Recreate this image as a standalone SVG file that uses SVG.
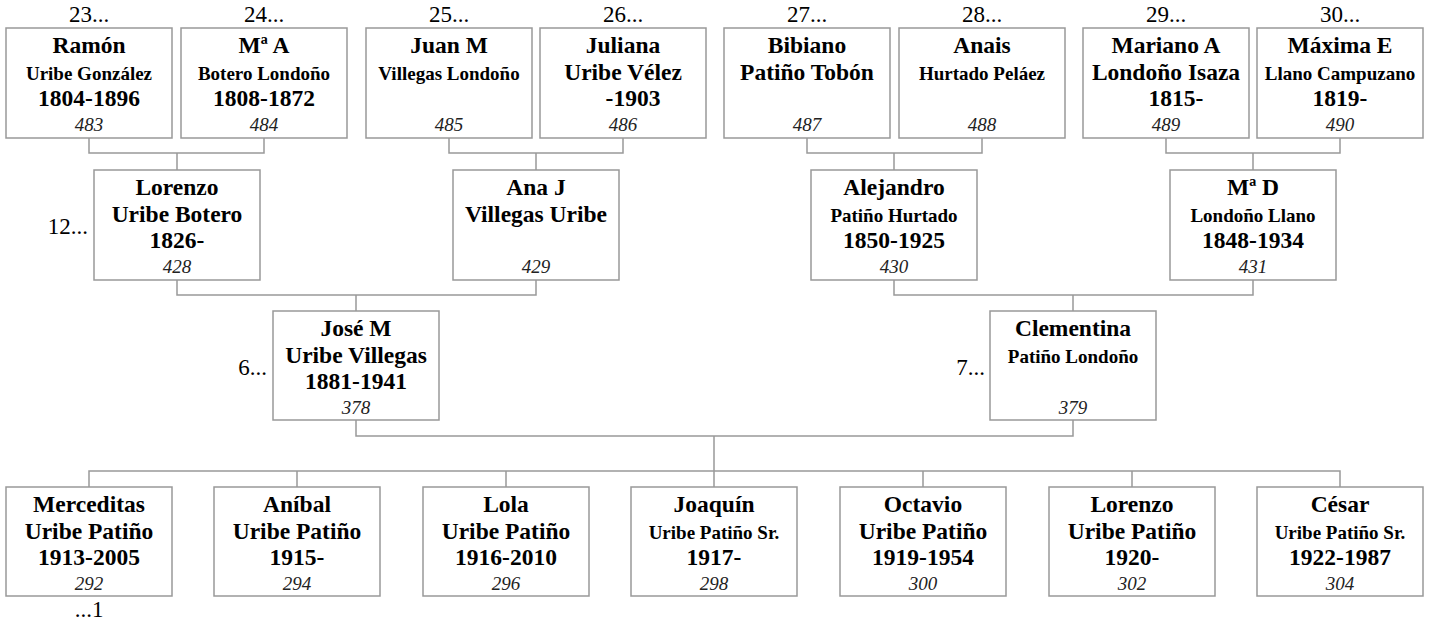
<svg xmlns="http://www.w3.org/2000/svg" width="1431" height="625" viewBox="0 0 1431 625" font-family="'Liberation Serif', 'Times New Roman', Tinos, Times, 'Nimbus Roman', serif">
<style>
.bx{fill:#fff;stroke:#999;stroke-width:1.5}
.cn{fill:none;stroke:#999;stroke-width:1.5}
text{font-family:'Liberation Serif','Times New Roman',Tinos,Times,'Nimbus Roman',serif;text-anchor:middle;fill:#000}
.b{font-weight:bold;font-size:23.5px}
.s{font-weight:bold;font-size:19px}
.n{font-style:italic;font-size:19px;fill:#222}
.l{font-size:23px}
.le{font-size:23px;text-anchor:end}
</style>
<rect width="1431" height="625" fill="#fff"/>
<g id="connectors">
<path class="cn" d="M89,138V153H264V138M177,153V170"/>
<path class="cn" d="M449,138V153H623V138M536,153V170"/>
<path class="cn" d="M807,138V153H982V138M894,153V170"/>
<path class="cn" d="M1166,138V153H1340V138M1253,153V170"/>
<path class="cn" d="M177,280V295H536V280M356,295V311"/>
<path class="cn" d="M894,280V295H1253V280M1073,295V311"/>
<path class="cn" d="M356,420V436H1073V420M714,436V471"/>
<path class="cn" d="M89,487V471H1340V487M297,471V487M506,471V487M714,471V487M923,471V487M1132,471V487"/>
</g>
<g id="n483"><text class="l" x="89" y="22">23...</text><rect class="bx" x="6" y="28" width="166" height="110"/><text class="b" x="89" y="53">Ramón</text><text class="s" x="89" y="80">Uribe González</text><text class="b" x="89" y="106">1804-1896</text><text class="n" x="89" y="131">483</text></g>
<g id="n484"><text class="l" x="264" y="22">24...</text><rect class="bx" x="181" y="28" width="166" height="110"/><text class="b" x="264" y="53">Mª A</text><text class="s" x="264" y="80">Botero Londoño</text><text class="b" x="264" y="106">1808-1872</text><text class="n" x="264" y="131">484</text></g>
<g id="n485"><text class="l" x="449" y="22">25...</text><rect class="bx" x="366" y="28" width="166" height="110"/><text class="b" x="449" y="53">Juan M</text><text class="s" x="449" y="80">Villegas Londoño</text><text class="n" x="449" y="131">485</text></g>
<g id="n486"><text class="l" x="623" y="22">26...</text><rect class="bx" x="540" y="28" width="166" height="110"/><text class="b" x="623" y="53">Juliana</text><text class="b" x="623" y="80">Uribe Vélez</text><text class="b" x="633" y="106">-1903</text><text class="n" x="623" y="131">486</text></g>
<g id="n487"><text class="l" x="807" y="22">27...</text><rect class="bx" x="724" y="28" width="166" height="110"/><text class="b" x="807" y="53">Bibiano</text><text class="b" x="807" y="80">Patiño Tobón</text><text class="n" x="807" y="131">487</text></g>
<g id="n488"><text class="l" x="982" y="22">28...</text><rect class="bx" x="899" y="28" width="166" height="110"/><text class="b" x="982" y="53">Anais</text><text class="s" x="982" y="80">Hurtado Peláez</text><text class="n" x="982" y="131">488</text></g>
<g id="n489"><text class="l" x="1166" y="22">29...</text><rect class="bx" x="1083" y="28" width="166" height="110"/><text class="b" x="1166" y="53">Mariano A</text><text class="b" x="1166" y="80">Londoño Isaza</text><text class="b" x="1176" y="106">1815-</text><text class="n" x="1166" y="131">489</text></g>
<g id="n490"><text class="l" x="1340" y="22">30...</text><rect class="bx" x="1257" y="28" width="166" height="110"/><text class="b" x="1340" y="53">Máxima E</text><text class="s" x="1340" y="80">Llano Campuzano</text><text class="b" x="1340" y="106">1819-</text><text class="n" x="1340" y="131">490</text></g>
<g id="n428"><text class="le" x="88" y="234">12...</text><rect class="bx" x="94" y="170" width="166" height="110"/><text class="b" x="177" y="195">Lorenzo</text><text class="b" x="177" y="222">Uribe Botero</text><text class="b" x="177" y="248">1826-</text><text class="n" x="177" y="273">428</text></g>
<g id="n429"><rect class="bx" x="453" y="170" width="166" height="110"/><text class="b" x="536" y="195">Ana J</text><text class="b" x="536" y="222">Villegas Uribe</text><text class="n" x="536" y="273">429</text></g>
<g id="n430"><rect class="bx" x="811" y="170" width="166" height="110"/><text class="b" x="894" y="195">Alejandro</text><text class="s" x="894" y="222">Patiño Hurtado</text><text class="b" x="894" y="248">1850-1925</text><text class="n" x="894" y="273">430</text></g>
<g id="n431"><rect class="bx" x="1170" y="170" width="166" height="110"/><text class="b" x="1253" y="195">Mª D</text><text class="s" x="1253" y="222">Londoño Llano</text><text class="b" x="1253" y="248">1848-1934</text><text class="n" x="1253" y="273">431</text></g>
<g id="n378"><text class="le" x="267" y="375">6...</text><rect class="bx" x="273" y="311" width="166" height="109"/><text class="b" x="356" y="336">José M</text><text class="b" x="356" y="363">Uribe Villegas</text><text class="b" x="356" y="389">1881-1941</text><text class="n" x="356" y="414">378</text></g>
<g id="n379"><text class="le" x="985" y="375">7...</text><rect class="bx" x="990" y="311" width="166" height="109"/><text class="b" x="1073" y="336">Clementina</text><text class="s" x="1073" y="363">Patiño Londoño</text><text class="n" x="1073" y="414">379</text></g>
<g id="n292"><rect class="bx" x="6" y="487" width="166" height="109"/><text class="b" x="89" y="512">Merceditas</text><text class="b" x="89" y="539">Uribe Patiño</text><text class="b" x="89" y="565">1913-2005</text><text class="n" x="89" y="590">292</text><text class="l" x="89" y="617">...1</text></g>
<g id="n294"><rect class="bx" x="214" y="487" width="166" height="109"/><text class="b" x="297" y="512">Aníbal</text><text class="b" x="297" y="539">Uribe Patiño</text><text class="b" x="297" y="565">1915-</text><text class="n" x="297" y="590">294</text></g>
<g id="n296"><rect class="bx" x="423" y="487" width="166" height="109"/><text class="b" x="506" y="512">Lola</text><text class="b" x="506" y="539">Uribe Patiño</text><text class="b" x="506" y="565">1916-2010</text><text class="n" x="506" y="590">296</text></g>
<g id="n298"><rect class="bx" x="631" y="487" width="166" height="109"/><text class="b" x="714" y="512">Joaquín</text><text class="s" x="714" y="539">Uribe Patiño Sr.</text><text class="b" x="714" y="565">1917-</text><text class="n" x="714" y="590">298</text></g>
<g id="n300"><rect class="bx" x="840" y="487" width="166" height="109"/><text class="b" x="923" y="512">Octavio</text><text class="b" x="923" y="539">Uribe Patiño</text><text class="b" x="923" y="565">1919-1954</text><text class="n" x="923" y="590">300</text></g>
<g id="n302"><rect class="bx" x="1049" y="487" width="166" height="109"/><text class="b" x="1132" y="512">Lorenzo</text><text class="b" x="1132" y="539">Uribe Patiño</text><text class="b" x="1132" y="565">1920-</text><text class="n" x="1132" y="590">302</text></g>
<g id="n304"><rect class="bx" x="1257" y="487" width="166" height="109"/><text class="b" x="1340" y="512">César</text><text class="s" x="1340" y="539">Uribe Patiño Sr.</text><text class="b" x="1340" y="565">1922-1987</text><text class="n" x="1340" y="590">304</text></g>
</svg>
